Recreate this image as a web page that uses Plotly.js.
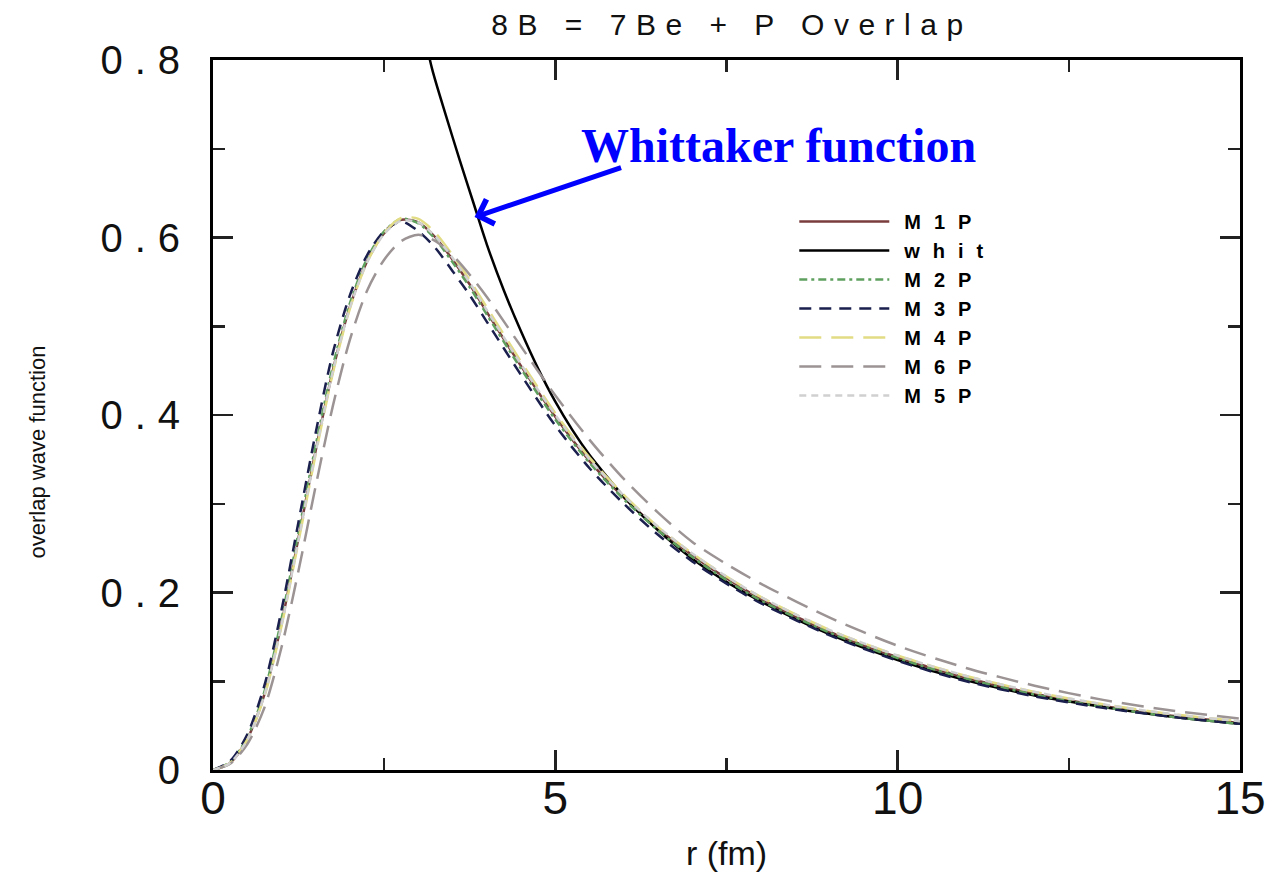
<!DOCTYPE html>
<html>
<head>
<meta charset="utf-8">
<script src="https://cdn.plot.ly/plotly-3.0.1.min.js"></script>
<style>
html,body{margin:0;padding:0;background:#fff;}
#chart{width:1273px;height:876px;}
.gtitle{letter-spacing:9.5px;}
.ytick text{letter-spacing:12px;}
.legendtext{letter-spacing:13px; transform:translateX(10px);}
</style>
</head>
<body>
<div id="chart"></div>
<script>
// radial grid (fm)
const r_fm = [0,0.25,0.5,0.75,1,1.25,1.5,1.75,2,2.25,2.5,2.75,3,3.25,3.5,3.75,4,4.5,5,5.5,6,6.5,7,7.5,8,9,10,11,12,13,14,15];
const M1P = [0,0.008,0.035,0.085,0.165,0.262,0.36,0.45,0.522,0.573,0.605,0.62,0.617,0.6,0.575,0.547,0.516,0.455,0.398,0.348,0.307,0.272,0.242,0.216,0.193,0.156,0.127,0.104,0.086,0.072,0.061,0.053];
const M2P = [0,0.009,0.037,0.088,0.17,0.268,0.366,0.455,0.526,0.576,0.607,0.621,0.616,0.598,0.572,0.544,0.513,0.452,0.395,0.346,0.305,0.27,0.24,0.214,0.191,0.155,0.126,0.103,0.085,0.071,0.06,0.052];
const M3P = [0,0.01,0.04,0.095,0.18,0.28,0.38,0.47,0.535,0.58,0.607,0.618,0.607,0.588,0.562,0.535,0.505,0.445,0.388,0.34,0.3,0.265,0.235,0.21,0.188,0.152,0.123,0.1,0.083,0.07,0.06,0.052];
const M4P = [0,0.008,0.034,0.083,0.162,0.258,0.356,0.447,0.52,0.572,0.605,0.622,0.621,0.605,0.58,0.552,0.521,0.46,0.402,0.352,0.31,0.274,0.244,0.218,0.195,0.158,0.129,0.106,0.088,0.074,0.063,0.055];
const M6P = [0,0.007,0.029,0.07,0.138,0.225,0.32,0.41,0.485,0.54,0.575,0.596,0.603,0.596,0.58,0.558,0.533,0.477,0.422,0.372,0.328,0.29,0.257,0.232,0.21,0.172,0.14,0.115,0.095,0.079,0.067,0.058];
const M5P = [0,0.008,0.034,0.084,0.163,0.26,0.358,0.449,0.521,0.572,0.604,0.619,0.617,0.601,0.577,0.549,0.518,0.457,0.4,0.35,0.309,0.274,0.244,0.218,0.195,0.158,0.129,0.106,0.088,0.074,0.063,0.055];
// Whittaker function
const r_whit = [3.0,3.2,3.4,3.6,3.8,4.0,4.25,4.5,4.75,5.0,5.25,5.5,5.75,6.0,6.5,7,7.5,8,9,10,11,12,13,14,15];
const whit = [0.86,0.79,0.738,0.688,0.64,0.592,0.54,0.494,0.452,0.415,0.383,0.355,0.331,0.308,0.27,0.238,0.212,0.19,0.153,0.124,0.101,0.084,0.071,0.06,0.052];

const xTicks = [0,5,10,15];
const yTicks = [0,0.2,0.4,0.6,0.8];

function tr(name, x, y, color, dash, width, group){
  return {type:'scatter', mode:'lines', name:name, x:x, y:y, legendgroup:group,
    line:{color:color, dash:dash, width:width, shape:'spline', smoothing:0.8}};
}
const data = [
  tr('M1P', r_fm, M1P, '#7a3c3c', 'solid', 2.5, 'g1'),
  tr('whit', r_whit, whit, '#000000', 'solid', 2.5, 'g2'),
  tr('M2P', r_fm, M2P, '#5fa05f', '8px,4px,3px,4px', 2.5, 'g3'),
  tr('M3P', r_fm, M3P, '#1a1f4d', '12px,8px', 2.5, 'g4'),
  tr('M4P', r_fm, M4P, '#e2dc84', '22px,10px', 2.5, 'g5'),
  tr('M6P', r_fm, M6P, '#9c9494', '22px,10px', 2.5, 'g6'),
  tr('M5P', r_fm, M5P, '#d0d0d0', '7px,5px', 2.5, 'g7')
];

const axisCommon = {
  showline:true, linecolor:'#000', linewidth:3, mirror:'allticks',
  ticks:'inside', ticklen:20, tickwidth:2.5, tickcolor:'#222',
  showgrid:false, zeroline:false, color:'#000'
};
const layout = {
  width:1273, height:876,
  margin:{l:213, r:33, t:60, b:106},
  paper_bgcolor:'#fff', plot_bgcolor:'#fff',
  title:{text:'8B = 7Be + P Overlap', x:0.575, xanchor:'center', y:0.972, yanchor:'middle',
    font:{family:'Liberation Sans, Arial, sans-serif', size:30, color:'#111'}},
  xaxis:Object.assign({}, axisCommon, {
    range:[0,15], tickvals:xTicks, ticklabelstandoff:-14,
    minor:{dtick:2.5, ticks:'inside', ticklen:12, tickwidth:2.5, tickcolor:'#222'},
    tickfont:{family:'Liberation Sans, Arial, sans-serif', size:46, color:'#111'},
    title:{text:'r (fm)', standoff:18, font:{family:'Liberation Sans, Arial, sans-serif', size:34, color:'#111'}}
  }),
  yaxis:Object.assign({}, axisCommon, {
    range:[0,0.8], tickvals:yTicks, ticklabelstandoff:10,
    minor:{dtick:0.1, ticks:'inside', ticklen:12, tickwidth:2.5, tickcolor:'#222'},
    tickfont:{family:'Liberation Sans, Arial, sans-serif', size:40, color:'#111'}
  }),
  legend:{x:0.566, xanchor:'left', y:0.8, yanchor:'top', bgcolor:'rgba(0,0,0,0)',
    borderwidth:0, itemwidth:90, traceorder:'grouped', tracegroupgap:0,
    font:{family:'Liberation Sans, Arial, sans-serif', size:20, color:'#000', weight:'bold'}},
  showlegend:true,
  annotations:[
    {xref:'paper', yref:'paper', x:-0.185, y:0.448, text:'overlap wave function', textangle:-90,
     showarrow:false, font:{family:'Liberation Sans, sans-serif', size:22, color:'#111'}},
    {xref:'paper', yref:'paper', x:0.551, y:0.92, text:'<b>Whittaker function</b>', showarrow:false,
     font:{family:'Liberation Serif, Times New Roman, serif', size:48, color:'#0000ff'}},
    {xref:'x', yref:'y', x:3.82, y:0.623, text:'', showarrow:true, ax:148, ay:-50,
     arrowhead:4, arrowsize:1, arrowwidth:5, arrowcolor:'#0000ff', standoff:0}
  ]
};
Plotly.newPlot('chart', data, layout, {displayModeBar:false, staticPlot:true});
</script>
</body>
</html>
